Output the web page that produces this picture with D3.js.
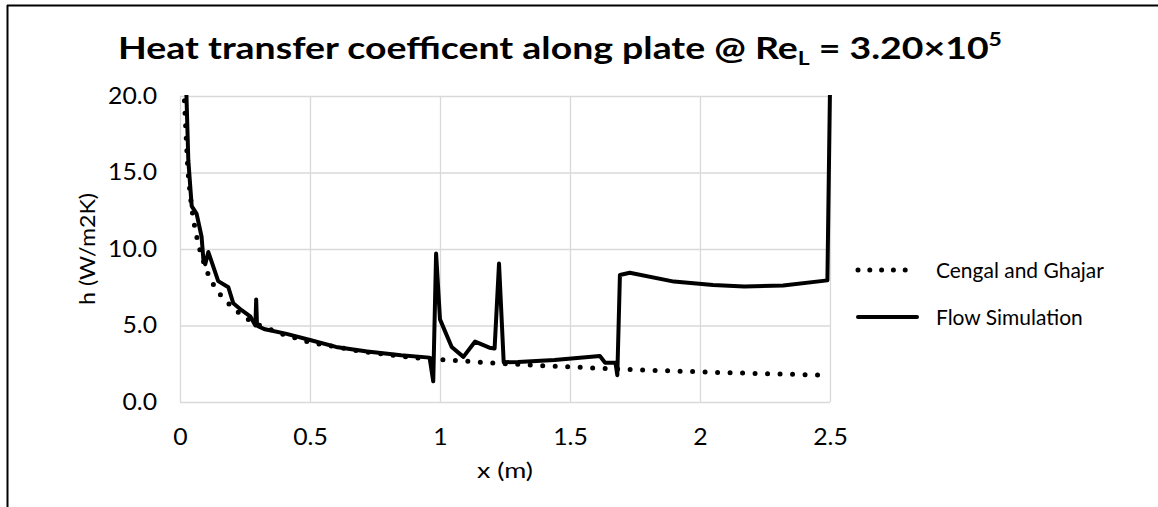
<!DOCTYPE html>
<html>
<head>
<meta charset="utf-8">
<script src="https://cdn.jsdelivr.net/npm/d3@7"></script>
<style>
  body { margin: 0; background: #fff; }
  svg { display: block; font-family: Lato, "Open Sans", sans-serif; }
</style>
</head>
<body>
<div id="chart"></div>
<script>
'use strict';

// Cengal and Ghajar correlation (x in m, h in W/m2K)
const cengalX = [0.015, 0.02, 0.03, 0.04, 0.05, 0.06, 0.08, 0.1, 0.12, 0.15, 0.2, 0.25, 0.3, 0.4, 0.5,
                 0.6, 0.7, 0.8, 0.9, 1.0, 1.2, 1.4, 1.6, 1.8, 2.0, 2.2, 2.4, 2.5];
const cengalH = [20.5, 18.6, 15.2, 13.4, 12.1, 11.1, 9.7, 8.7, 7.9, 7.1, 6.2, 5.5, 5.05, 4.4, 3.9,
                 3.6, 3.3, 3.1, 2.9, 2.78, 2.55, 2.37, 2.22, 2.08, 1.97, 1.87, 1.79, 1.74];

// Flow Simulation result
const flowX = [0.024, 0.032, 0.045, 0.064, 0.083, 0.09, 0.097, 0.109, 0.147, 0.186, 0.205, 0.237, 0.27,
               0.29, 0.293, 0.296, 0.3, 0.327, 0.41, 0.5, 0.6, 0.72, 0.85, 0.96, 0.974, 0.985, 1.0,
               1.045, 1.09, 1.135, 1.19, 1.21, 1.227, 1.245, 1.3, 1.44, 1.615, 1.635, 1.675, 1.682,
               1.692, 1.73, 1.9, 2.05, 2.17, 2.32, 2.49, 2.5];
const flowH = [20.5, 15.8, 12.8, 12.3, 10.8, 9.3, 9.0, 9.8, 7.9, 7.5, 6.45, 6.0, 5.6,
               5.0, 6.7, 5.1, 4.95, 4.75, 4.45, 4.05, 3.6, 3.3, 3.05, 2.9, 1.35, 9.7, 5.4,
               3.6, 2.95, 3.95, 3.55, 3.5, 9.05, 2.6, 2.62, 2.75, 3.0, 2.57, 2.57, 1.75,
               8.3, 8.45, 7.87, 7.65, 7.55, 7.62, 7.95, 20.5];

const xTicks = [0, 0.5, 1, 1.5, 2, 2.5];
const yTicks = [0, 5, 10, 15, 20];

const seriesNames = ['Cengal and Ghajar', 'Flow Simulation'];

const width = 1158;
const height = 507;
const margin = { left: 180, right: 328, top: 96, bottom: 105 };

// fit a text to the width it has in the source picture
const stretchTo = (sel, target, ax, ay) => {
    const w = sel.node().getComputedTextLength();
    const sx = target / w;
    sel.attr('transform', 'translate(' + ax + ',' + ay + ') scale(' + sx + ',1) translate(' + (-ax) + ',' + (-ay) + ')');
    return sx;
};

const svg = d3.select('#chart').append('svg')
    .attr('width', width)
    .attr('height', height);

// outer frame (only top and left edges visible)
svg.append('line').attr('x1', 7).attr('x2', width).attr('y1', 5.5).attr('y2', 5.5)
    .attr('stroke', '#000').attr('stroke-width', 2);
svg.append('line').attr('x1', 7.5).attr('x2', 7.5).attr('y1', 5).attr('y2', height)
    .attr('stroke', '#000').attr('stroke-width', 2);

const x = d3.scaleLinear().domain([0, 2.5]).range([margin.left, width - margin.right]);
const y = d3.scaleLinear().domain([0, 20]).range([height - margin.bottom, margin.top]);

// gridlines
svg.append('g')
    .attr('transform', 'translate(0,' + y(0) + ')')
    .call(d3.axisBottom(x).tickValues(xTicks).tickSize(-(y(0) - y(20))).tickFormat(''))
    .call(g => g.select('.domain').remove())
    .selectAll('line').attr('stroke', '#d9d9d9').attr('stroke-width', 1.3);
svg.append('g')
    .attr('transform', 'translate(' + x(0) + ',0)')
    .call(d3.axisLeft(y).tickValues(yTicks).tickSize(-(x(2.5) - x(0))).tickFormat(''))
    .call(g => g.select('.domain').remove())
    .selectAll('line').attr('stroke', '#d9d9d9').attr('stroke-width', 1.3);

// tick labels
const yLabels = svg.append('g')
    .attr('transform', 'translate(' + x(0) + ',0)')
    .call(d3.axisLeft(y).tickValues(yTicks).tickSize(0).tickPadding(23).tickFormat(d3.format('.1f')))
    .call(g => g.select('.domain').remove())
    .selectAll('text').attr('font-size', 22.5).attr('fill', '#000').attr('font-family', 'Lato');
const tickSx = 49 / yLabels.filter(d => d === 20).node().getComputedTextLength();
yLabels.attr('transform', 'translate(-23,0) scale(' + tickSx + ',1) translate(23,0)');

svg.append('g')
    .attr('transform', 'translate(0,' + y(0) + ')')
    .call(d3.axisBottom(x).tickValues(xTicks).tickSize(0).tickPadding(27).tickFormat(d3.format('')))
    .call(g => g.select('.domain').remove())
    .selectAll('text').attr('font-size', 22.5).attr('fill', '#000').attr('font-family', 'Lato')
    .attr('transform', 'scale(' + tickSx + ',1)');

// axis titles
const xTitle = svg.append('text')
    .attr('x', (x(0) + x(2.5)) / 2)
    .attr('y', 478)
    .attr('text-anchor', 'middle')
    .attr('font-size', 22)
    .text('x (m)');
stretchTo(xTitle, 56, (x(0) + x(2.5)) / 2, 478);

const yTitle = svg.append('text')
    .attr('x', 0).attr('y', 0)
    .attr('text-anchor', 'middle')
    .attr('font-size', 22)
    .text('h (W/m2K)');
const ySx = 112 / yTitle.node().getComputedTextLength();
yTitle.attr('transform', 'translate(95,' + ((y(0) + y(20)) / 2) + ') rotate(-90) scale(' + ySx + ',1)');

// chart title
const title = svg.append('text')
    .attr('x', 118)
    .attr('y', 59)
    .attr('font-size', 31)
    .attr('font-weight', 'bold');
title.append('tspan').text('Heat transfer coefficent along plate @ Re');
title.append('tspan').attr('font-size', 19).attr('dy', 6).text('L');
title.append('tspan').attr('dy', -6).text(' = 3.20×10');
title.append('tspan').attr('font-size', 19).attr('dy', -13).text('5');
stretchTo(title, 884, 118, 59);

// clip to plot area
svg.append('clipPath').attr('id', 'plot')
    .append('rect')
    .attr('x', x(0)).attr('y', y(20) - 1)
    .attr('width', x(2.5) - x(0) + 2).attr('height', y(0) - y(20) + 1);

const line = d3.line()
    .x(d => x(d[0]))
    .y(d => y(d[1]));

const plot = svg.append('g').attr('clip-path', 'url(#plot)');

plot.append('path')
    .datum(d3.zip(cengalX, cengalH))
    .attr('d', line)
    .attr('fill', 'none')
    .attr('stroke', '#000')
    .attr('stroke-width', 5)
    .attr('stroke-linecap', 'round')
    .attr('stroke-dasharray', '0 12.5');

plot.append('path')
    .datum(d3.zip(flowX, flowH))
    .attr('d', line)
    .attr('fill', 'none')
    .attr('stroke', '#000')
    .attr('stroke-width', 4)
    .attr('stroke-linejoin', 'round')
    .attr('stroke-linecap', 'round');

// legend
const legend = svg.selectAll('.legend')
    .data(seriesNames)
    .enter()
    .append('g')
    .attr('class', 'legend')
    .attr('transform', (d, i) => 'translate(858,' + (270 + i * 47) + ')');

legend.append('line')
    .attr('x1', 0).attr('x2', 59)
    .attr('stroke', '#000')
    .attr('stroke-width', (d, i) => i === 0 ? 5 : 4)
    .attr('stroke-linecap', 'round')
    .attr('stroke-dasharray', (d, i) => i === 0 ? '0 11.8' : null);

const legendText = legend.append('text')
    .attr('x', 78)
    .attr('y', 8)
    .attr('font-size', 22)
    .text(d => d);
const legSx = 168 / legendText.filter((d, i) => i === 0).node().getComputedTextLength();
legendText.attr('transform', 'translate(78,0) scale(' + legSx + ',1) translate(-78,0)');
</script>
</body>
</html>
